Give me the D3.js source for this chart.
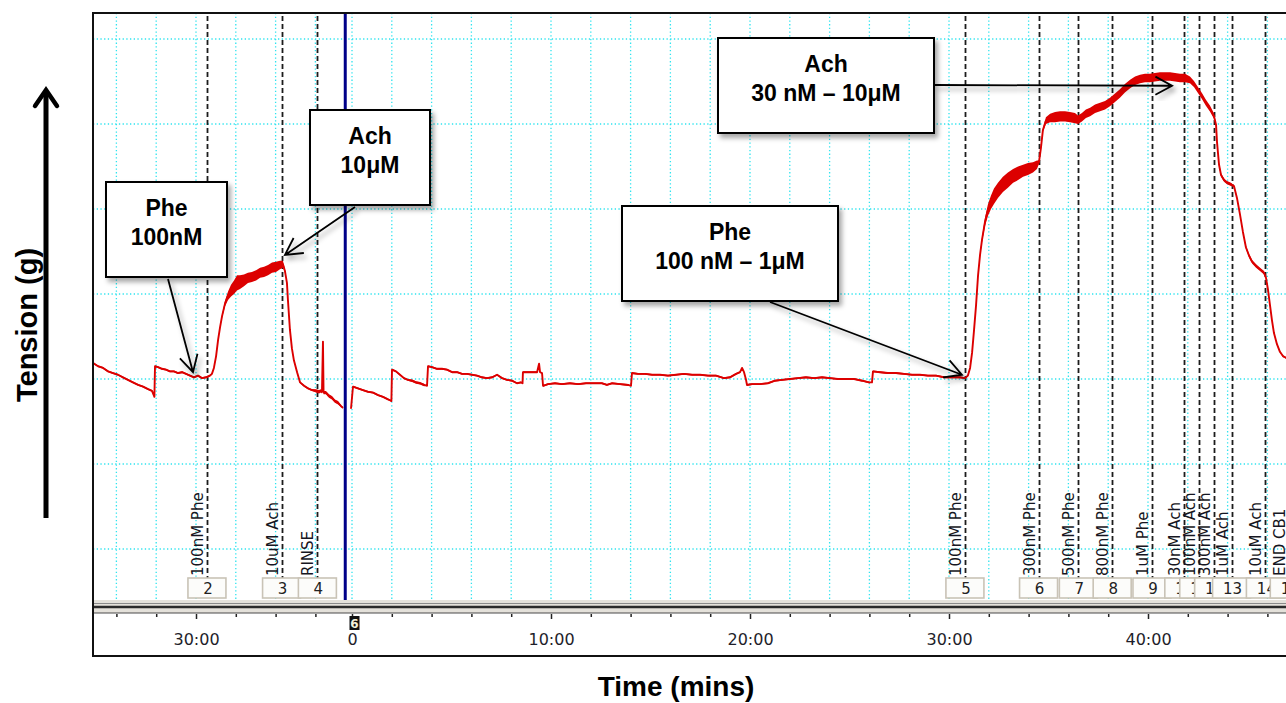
<!DOCTYPE html>
<html><head><meta charset="utf-8">
<script src="https://cdn.jsdelivr.net/npm/d3@7"></script>
<style>
html,body{margin:0;padding:0;background:#fff;overflow:hidden}
svg{display:block}
</style></head><body>
<svg id="chart" width="1286" height="703"></svg>
<script>
// ---- Time axis (minutes). The record shows the tail of the previous block, then block starting at 0 ----
const prevMinorTicks = [26, 28, 30, 32, 34, 36];
const prevLabelTimes = [30];
const prevLabelText = ["30:00"];
const mainMinorTicks = [0, 2, 4, 6, 8, 10, 12, 14, 16, 18, 20, 22, 24, 26, 28, 30, 32, 34, 36, 38, 40, 42, 44, 46];
const mainLabelTimes = [0, 10, 20, 30, 40];
const mainLabelText = ["0", "10:00", "20:00", "30:00", "40:00"];
const tensionGrid = [0, 1, 2, 3, 4, 5, 6];
const blockBreakTime = 37.5;   // comment 6: end of previous block

// ---- Event comments ----
const prevEventTimes = [30.55, 34.3, 36.1];
const prevEventLabels = ["100nM Phe", "10uM Ach", "RINSE"];
const prevEventNums = [2, 3, 4];
const mainEventTimes = [30.8, 34.5, 36.5, 38.2, 40.2, 41.8, 42.55, 43.3, 44.2, 45.9, 47.1];
const mainEventLabels = ["100nM Phe", "300nM Phe", "500nM Phe", "800nM Phe", "1uM Phe", "30nM Ach", "100nM Ach", "300nM Ach", "1uM Ach", "10uM Ach", "END CB1"];
const mainEventNums = [5, 6, 7, 8, 9, 10, 11, 12, 13, 14, 15];

// ---- Tension trace: [time (min), tension (g), noise half-band (g)] ----
const prevTrace = [[24.82,2.19,.01],[25.08,2.15,.01],[25.33,2.13,.01],[25.58,2.09,.01],[25.83,2.07,.01],[26.08,2.05,.01],[26.33,2.02,.01],[26.58,1.99,.01],[26.83,1.96,.01],[27.09,1.93,.01],[27.34,1.91,.01],[27.59,1.88,.01],[27.79,1.86,.01],[27.91,1.79,0],[27.94,2.15,.01],[28.09,2.14,.01],[28.29,2.12,.01],[28.49,2.11,.01],[28.69,2.09,.01],[28.89,2.09,.01],[29.10,2.07,.01],[29.30,2.08,.01],[29.50,2.06,.01],[29.70,2.04,.01],[29.90,2.02,.01],[30.10,2.04,.01],[30.30,2.01,.01],[30.50,2.02,.01],[30.70,2.04,.01],[30.80,2.06,.01],[30.90,2.13,.01],[31.01,2.27,.01],[31.11,2.46,.01],[31.21,2.61,.01],[31.31,2.74,.02],[31.46,2.89,.035],[31.61,2.98,.05],[31.76,3.04,.07],[31.91,3.08,.08],[32.06,3.13,.09],[32.21,3.14,.08],[32.41,3.16,.07],[32.61,3.19,.06],[32.81,3.20,.06],[33.02,3.22,.06],[33.22,3.25,.06],[33.42,3.26,.06],[33.62,3.28,.06],[33.82,3.31,.06],[34.02,3.32,.06],[34.22,3.34,.05],[34.37,3.35,.04],[34.47,3.27,.02],[34.57,3.13,.01],[34.62,2.93,.01],[34.72,2.58,.01],[34.82,2.36,.01],[34.92,2.22,.01],[35.08,2.08,.01],[35.23,1.96,.01],[35.43,1.92,.01],[35.63,1.89,.01],[35.83,1.87,.01],[36.03,1.86,.02],[36.18,1.85,.02],[36.28,1.86,.02],[36.33,1.85,.02],[36.38,2.44,0],[36.41,1.84,.02],[36.53,1.84,.02],[36.68,1.80,.02],[36.83,1.78,.02],[36.98,1.74,.02],[37.14,1.72,.02],[37.29,1.68,.01],[37.39,1.66,.01]];

const mainTrace = [[-0.05,1.65,0],[0.05,1.91,.01],[0.30,1.89,.01],[0.55,1.87,.01],[0.80,1.85,.01],[1.06,1.84,.01],[1.31,1.81,.01],[1.56,1.79,.01],[1.81,1.76,.01],[1.91,1.75,.01],[1.98,1.74,0],[2.01,2.11,.01],[2.21,2.09,.01],[2.41,2.05,.01],[2.61,2.01,.01],[2.81,1.99,.01],[3.02,1.98,.015],[3.22,1.96,.015],[3.42,1.95,.015],[3.62,1.93,.015],[3.77,1.92,0],[3.82,2.15,.01],[4.02,2.14,.01],[4.27,2.12,.01],[4.52,2.12,.01],[4.77,2.11,.01],[5.03,2.08,.01],[5.28,2.08,.01],[5.53,2.06,.01],[5.78,2.06,.01],[6.03,2.05,.01],[6.28,2.04,.01],[6.53,2.02,.01],[6.78,2.01,.01],[7.04,2.02,.01],[7.29,2.05,.01],[7.54,2.01,.01],[7.79,1.99,.01],[8.04,1.98,.01],[8.29,1.95,.01],[8.49,1.96,.01],[8.57,1.95,0],[8.59,2.08,.01],[8.84,2.08,.01],[9.10,2.08,.01],[9.30,2.08,.01],[9.40,2.18,0],[9.45,2.08,.01],[9.55,2.07,0],[9.60,1.92,.01],[9.85,1.94,.01],[10.20,1.95,.01],[10.55,1.94,.01],[10.95,1.95,.01],[11.36,1.94,.01],[11.76,1.95,.01],[12.16,1.95,.01],[12.56,1.95,.01],[12.81,1.93,.01],[13.07,1.95,.01],[13.47,1.94,.01],[13.87,1.93,.01],[14.02,1.92,0],[14.07,2.07,.01],[14.37,2.06,.01],[14.72,2.06,.01],[15.08,2.05,.01],[15.48,2.05,.01],[15.88,2.04,.01],[16.28,2.05,.01],[16.68,2.06,.01],[17.09,2.05,.01],[17.49,2.05,.01],[17.89,2.04,.01],[18.29,2.04,.01],[18.69,2.01,.01],[18.99,2.02,.01],[19.30,2.06,.01],[19.50,2.08,.01],[19.60,2.13,0],[19.70,2.08,0],[19.80,1.99,0],[19.85,1.93,.01],[20.10,1.94,.01],[20.50,1.94,.01],[20.90,1.95,.01],[21.26,1.98,.01],[21.61,1.99,.01],[22.01,2.00,.01],[22.41,2.01,.01],[22.81,2.02,.01],[23.22,2.01,.01],[23.62,2.02,.01],[24.02,2.01,.01],[24.42,2.00,.01],[24.82,2.00,.01],[25.23,2.00,.01],[25.63,1.98,.01],[25.98,1.96,.01],[26.13,1.96,0],[26.18,2.09,.01],[26.53,2.08,.01],[26.93,2.07,.01],[27.34,2.07,.01],[27.74,2.06,.01],[28.14,2.05,.01],[28.54,2.05,.01],[28.94,2.04,.01],[29.35,2.04,.01],[29.75,2.02,.01],[30.15,2.02,.01],[30.55,2.02,.01],[30.80,2.01,.01],[30.95,2.04,.01],[31.06,2.13,.01],[31.16,2.31,.01],[31.26,2.58,.01],[31.36,2.87,.01],[31.46,3.22,.02],[31.56,3.46,.02],[31.66,3.64,.03],[31.81,3.85,.05],[31.96,3.99,.07],[32.11,4.08,.08],[32.26,4.15,.09],[32.46,4.22,.09],[32.71,4.29,.09],[32.96,4.34,.09],[33.22,4.39,.08],[33.47,4.42,.08],[33.72,4.45,.07],[33.97,4.47,.07],[34.22,4.49,.06],[34.42,4.52,.05],[34.52,4.55,.02],[34.62,4.72,.02],[34.72,4.93,.02],[34.87,5.04,.04],[35.08,5.07,.05],[35.33,5.08,.06],[35.58,5.09,.06],[35.83,5.09,.06],[36.08,5.08,.06],[36.33,5.07,.06],[36.48,5.05,.05],[36.68,5.08,.05],[36.88,5.12,.05],[37.09,5.14,.05],[37.34,5.18,.05],[37.59,5.20,.05],[37.84,5.22,.05],[38.09,5.26,.05],[38.34,5.31,.05],[38.59,5.36,.05],[38.84,5.42,.05],[39.10,5.47,.05],[39.35,5.51,.05],[39.60,5.53,.05],[39.85,5.54,.05],[40.10,5.54,.05],[40.35,5.55,.05],[40.60,5.56,.05],[40.85,5.56,.05],[41.11,5.56,.05],[41.36,5.55,.05],[41.61,5.54,.05],[41.86,5.54,.05],[42.11,5.52,.04],[42.31,5.47,.035],[42.51,5.40,.035],[42.71,5.33,.035],[42.91,5.25,.035],[43.12,5.18,.035],[43.32,5.09,.03],[43.42,4.99,.01],[43.47,4.78,.01],[43.57,4.52,.02],[43.67,4.40,.02],[43.82,4.34,.02],[43.97,4.31,.02],[44.17,4.29,.02],[44.32,4.27,.01],[44.47,4.13,.01],[44.62,3.94,.01],[44.77,3.73,.01],[44.92,3.55,.02],[45.08,3.45,.02],[45.23,3.38,.02],[45.43,3.33,.02],[45.63,3.29,.02],[45.83,3.25,.02],[45.93,3.19,.01],[46.03,3.05,.01],[46.13,2.87,.01],[46.23,2.69,.01],[46.33,2.54,.01],[46.48,2.41,.01],[46.63,2.32,.01],[46.78,2.27,.01],[46.93,2.25,.01],[47.14,2.22,.01]];

// ---- Callouts ----
const calloutTitle = ["Phe", "Ach", "Phe", "Ach"];
const calloutDose = ["100nM", "10μM", "100 nM – 1μM", "30 nM – 10μM"];
const calloutBlock = ["prev", "prev", "main", "main"];
const calloutTime = [29.85, 34.47, 30.65, 41.21];
const calloutTension = [2.08, 3.46, 2.05, 5.45];

// ---- Layout ----
const W = 1286, H = 703;
const frameL = 93, frameT = 13, plotB = 600, stripB = 656;
const pxPerMin = 19.9;
const calloutLayout = [
  {x: 106, y: 182, w: 121, h: 95, sx: 168, sy: 279},
  {x: 310, y: 110, w: 120, h: 95, sx: 355, sy: 207},
  {x: 622, y: 206, w: 216, h: 95, sx: 770, sy: 302},
  {x: 718, y: 38,  w: 216, h: 95, sx: 935, sy: 85}
];

const svg = d3.select("#chart");
const defs = svg.append("defs");
defs.append("clipPath").attr("id", "plotClip").append("rect")
  .attr("x", frameL + 1).attr("y", frameT + 1).attr("width", W - frameL).attr("height", plotB - frameT - 1);
defs.append("clipPath").attr("id", "prevClip").append("rect")
  .attr("x", frameL + 1).attr("y", frameT + 1).attr("width", 250).attr("height", plotB - frameT - 1);
defs.append("clipPath").attr("id", "mainClip").append("rect")
  .attr("x", 347).attr("y", frameT + 1).attr("width", W).attr("height", plotB - frameT - 1);
const shadow = defs.append("filter").attr("id", "shadow").attr("x", "-20%").attr("y", "-20%").attr("width", "150%").attr("height", "150%");
shadow.append("feDropShadow").attr("dx", 3).attr("dy", 4).attr("stdDeviation", 2.5)
  .attr("flood-color", "#000").attr("flood-opacity", 0.35);

// scales
const xPrev = d3.scaleLinear().domain([30, 36]).range([196, 196 + 6 * pxPerMin]);
const xMain = d3.scaleLinear().domain([0, 40]).range([352, 352 + 40 * pxPerMin]);
const y = d3.scaleLinear().domain([0, 6]).range([549, 39]);
const xOf = b => b === "prev" ? xPrev : xMain;

const plot = svg.append("g").attr("clip-path", "url(#plotClip)");

// grid
const gridColor = "#2fe4ef";
plot.append("g").selectAll("line").data(tensionGrid).join("line")
  .attr("x1", frameL).attr("x2", W + 5).attr("y1", d => y(d)).attr("y2", d => y(d))
  .attr("stroke", gridColor).attr("stroke-width", 1.3).attr("stroke-dasharray", "1.3 2.4");
plot.append("g").selectAll("line").data(prevMinorTicks).join("line")
  .attr("x1", d => xPrev(d)).attr("x2", d => xPrev(d)).attr("y1", frameT).attr("y2", plotB)
  .attr("stroke", gridColor).attr("stroke-width", 1.3).attr("stroke-dasharray", "1.3 2.4");
plot.append("g").selectAll("line").data(mainMinorTicks).join("line")
  .attr("x1", d => xMain(d)).attr("x2", d => xMain(d)).attr("y1", frameT).attr("y2", plotB)
  .attr("stroke", gridColor).attr("stroke-width", 1.3).attr("stroke-dasharray", "1.3 2.4");

// event markers
function drawEvents(times, labels, nums, xs) {
  const g = plot.append("g");
  g.selectAll("line").data(times).join("line")
    .attr("x1", d => Math.round(xs(d)) + 0.5).attr("x2", d => Math.round(xs(d)) + 0.5)
    .attr("y1", frameT + 3).attr("y2", 578)
    .attr("stroke", "#1c1c1c").attr("stroke-width", 1.8).attr("stroke-dasharray", "5 3");
  g.selectAll("text.lab").data(times).join("text").attr("class", "lab")
    .attr("transform", d => `translate(${xs(d) - 4},576) rotate(-90)`)
    .attr("font-family", "DejaVu Sans, sans-serif").attr("font-size", 15)
    .attr("fill", "#161622").text((d, i) => labels[i]);
  const boxes = g.selectAll("g.box").data(times).join("g").attr("class", "box");
  boxes.append("rect")
    .attr("x", d => xs(d) - 19).attr("y", 578).attr("width", 38).attr("height", 20)
    .attr("fill", "#fcfcfa").attr("stroke", "#c9c3b6").attr("stroke-width", 1.6);
  boxes.append("text")
    .attr("x", d => xs(d) + 1).attr("y", 594).attr("text-anchor", "middle")
    .attr("font-family", "DejaVu Sans, sans-serif").attr("font-size", 15).attr("fill", "#222")
    .text((d, i) => nums[i]);
}
drawEvents(prevEventTimes, prevEventLabels, prevEventNums, xPrev);
drawEvents(mainEventTimes, mainEventLabels, mainEventNums, xMain);

// trace
const red = "#dc0000";
function drawTrace(data, xs, clip) {
  const g = plot.append("g").attr("clip-path", `url(#${clip})`);
  g.append("path").datum(data)
    .attr("d", d3.area().x(d => xs(d[0])).y0(d => y(d[1] - d[2])).y1(d => y(d[1] + d[2])))
    .attr("fill", red).attr("stroke", "none");
  g.append("path").datum(data)
    .attr("d", d3.line().x(d => xs(d[0])).y(d => y(d[1])))
    .attr("fill", "none").attr("stroke", red).attr("stroke-width", 1.9).attr("stroke-linejoin", "round");
}
drawTrace(prevTrace, xPrev, "prevClip");
drawTrace(mainTrace, xMain, "mainClip");

// block break line (comment 6)
plot.append("line")
  .attr("x1", xPrev(blockBreakTime)).attr("x2", xPrev(blockBreakTime))
  .attr("y1", frameT).attr("y2", plotB)
  .attr("stroke", "#000088").attr("stroke-width", 3);

// ---- time strip ----
const strip = svg.append("g");
strip.append("rect").attr("x", frameL).attr("y", plotB).attr("width", W).attr("height", 13).attr("fill", "#e4e1da");
strip.append("line").attr("x1", frameL).attr("x2", W + 5).attr("y1", 603.5).attr("y2", 603.5).attr("stroke", "#8a8a8a").attr("stroke-width", 1);
strip.append("line").attr("x1", frameL).attr("x2", W + 5).attr("y1", 607).attr("y2", 607).attr("stroke", "#2a2a2a").attr("stroke-width", 2.5);
strip.append("line").attr("x1", frameL).attr("x2", W + 5).attr("y1", 613).attr("y2", 613).attr("stroke", "#4a4a4a").attr("stroke-width", 1.2);

function drawAxis(xs, minor, labTimes, labText, xmin, xmax) {
  const ax = d3.axisBottom(xs).tickValues(minor.filter(t => xs(t) > xmin && xs(t) < xmax))
    .tickSize(4).tickFormat(t => { const k = labTimes.indexOf(t); return k >= 0 ? labText[k] : ""; });
  const g = strip.append("g").attr("transform", "translate(0,614)").call(ax);
  g.select(".domain").remove();
  g.selectAll(".tick line").attr("stroke", "#222").attr("stroke-width", 1.5)
    .attr("y2", t => labTimes.indexOf(t) >= 0 ? 5 : 3);
  g.selectAll(".tick text").attr("y", 31).attr("dy", 0)
    .attr("font-family", "DejaVu Sans, sans-serif").attr("font-size", 16).attr("fill", "#1e1e2a");
}
drawAxis(xPrev, prevMinorTicks, prevLabelTimes, prevLabelText, frameL, 344);
drawAxis(xMain, mainMinorTicks, mainLabelTimes, mainLabelText, 347, W + 2);

// comment 6 flag on the time strip
const flagX = xMain(0) + 2;
strip.append("rect").attr("x", flagX - 4.5).attr("y", 616).attr("width", 10).attr("height", 14).attr("fill", "#111");
strip.append("text").attr("x", flagX + 0.5).attr("y", 628).attr("text-anchor", "middle")
  .attr("font-family", "DejaVu Sans, sans-serif").attr("font-weight", "bold").attr("font-size", 12)
  .attr("fill", "#f4f0d8").text("6");

// frame
svg.append("line").attr("x1", frameL).attr("x2", frameL).attr("y1", frameT - 1).attr("y2", stripB + 1).attr("stroke", "#111").attr("stroke-width", 2);
svg.append("line").attr("x1", frameL - 1).attr("x2", W + 5).attr("y1", frameT).attr("y2", frameT).attr("stroke", "#111").attr("stroke-width", 2);
svg.append("line").attr("x1", frameL - 1).attr("x2", W + 5).attr("y1", stripB).attr("y2", stripB).attr("stroke", "#111").attr("stroke-width", 2);

// ---- callouts ----
const co = svg.append("g");
calloutTitle.forEach((title, i) => {
  const L = calloutLayout[i];
  const xs = xOf(calloutBlock[i]);
  const tx = xs(calloutTime[i]), ty = y(calloutTension[i]);
  const a = Math.atan2(ty - L.sy, tx - L.sx);
  const hl = 19, ha = 0.5;
  const w1 = [tx - hl * Math.cos(a - ha), ty - hl * Math.sin(a - ha)];
  const w2 = [tx - hl * Math.cos(a + ha), ty - hl * Math.sin(a + ha)];
  const g = co.append("g");
  g.append("path")
    .attr("d", `M${L.sx},${L.sy}L${tx},${ty}M${w1[0]},${w1[1]}L${tx},${ty}L${w2[0]},${w2[1]}`)
    .attr("fill", "none").attr("stroke", "#000").attr("stroke-width", 1.8)
    .attr("filter", "url(#shadow)");
  g.append("rect").attr("x", L.x).attr("y", L.y).attr("width", L.w).attr("height", L.h)
    .attr("fill", "#fff").attr("stroke", "#000").attr("stroke-width", 2)
    .attr("filter", "url(#shadow)");
  const cx = L.x + L.w / 2;
  g.append("text").attr("x", cx).attr("y", L.y + 34).attr("text-anchor", "middle")
    .attr("font-family", "Liberation Sans, Arial, sans-serif").attr("font-weight", "bold").attr("font-size", 23)
    .attr("fill", "#000").text(title);
  g.append("text").attr("x", cx).attr("y", L.y + 63).attr("text-anchor", "middle")
    .attr("font-family", "Liberation Sans, Arial, sans-serif").attr("font-weight", "bold").attr("font-size", 23)
    .attr("fill", "#000").text(calloutDose[i]);
});

// ---- axis titles ----
svg.append("path").attr("d", "M46,518L46,92").attr("stroke", "#000").attr("stroke-width", 5).attr("fill", "none");
svg.append("path").attr("d", "M35,106L46,90L57,106").attr("stroke", "#000").attr("stroke-width", 4.5)
  .attr("fill", "none").attr("stroke-linecap", "round").attr("stroke-linejoin", "miter");
svg.append("text").attr("transform", "translate(37,325) rotate(-90)").attr("text-anchor", "middle")
  .attr("font-family", "Liberation Sans, Arial, sans-serif").attr("font-weight", "bold").attr("font-size", 29)
  .attr("fill", "#000").text("Tension (g)");
svg.append("text").attr("x", 676).attr("y", 696).attr("text-anchor", "middle")
  .attr("font-family", "Liberation Sans, Arial, sans-serif").attr("font-weight", "bold").attr("font-size", 28)
  .attr("fill", "#000").text("Time (mins)");
</script>
</body></html>
